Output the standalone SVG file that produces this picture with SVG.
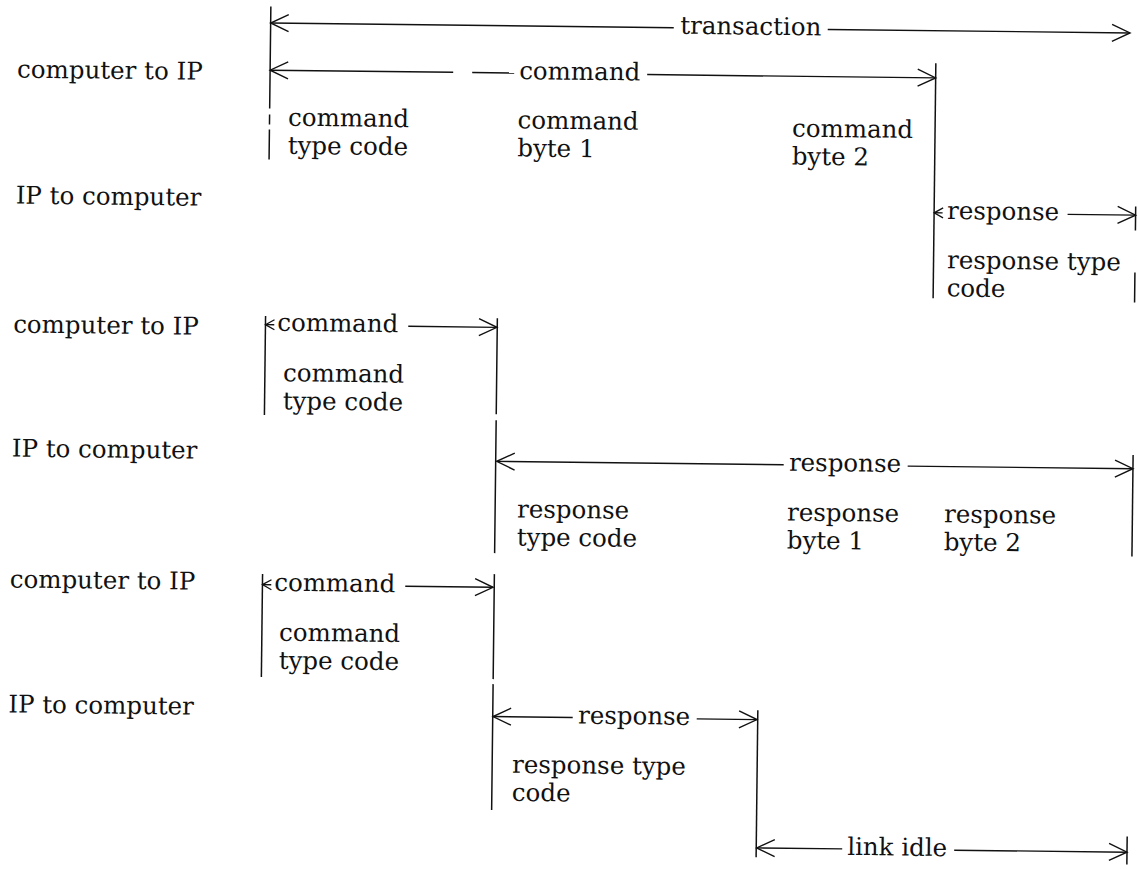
<svg xmlns="http://www.w3.org/2000/svg" width="1138" height="870" viewBox="0 0 1138 870">
  <style>
    text { font-family: "DejaVu Serif", "Liberation Serif", serif; font-size: 24.5px; fill: #111; }
    .ln { stroke: #111; stroke-width: 1.4; fill: none; }
    .tk { stroke: #111; stroke-width: 1.5; fill: none; }
    .big-start { marker-start: url(#ah); }
    .big-end { marker-end: url(#ah); }
    .small-start { marker-start: url(#ah-s); }
  </style>
  <defs>
    <!-- open V arrowheads, tip at the line end -->
    <marker id="ah" viewBox="-20 -10 22 20" refX="0" refY="0" markerWidth="22" markerHeight="20" markerUnits="userSpaceOnUse" orient="auto-start-reverse">
      <path d="M-18,-8.5 L0,0 L-18,8.5" fill="none" stroke="#111" stroke-width="1.4"/>
    </marker>
    <marker id="ah-s" viewBox="-12 -7 14 14" refX="0" refY="0" markerWidth="14" markerHeight="14" markerUnits="userSpaceOnUse" orient="auto-start-reverse">
      <path d="M-9,-5 L0,0 L-9,5" fill="none" stroke="#111" stroke-width="1.3"/>
    </marker>
  </defs>
  <rect width="1138" height="870" fill="#fff"/>

  <!-- the printed page sits slightly skewed -->
  <g transform="rotate(0.665 570 435)">

    <g id="row-labels">
      <text x="13" y="84">computer to IP</text>
      <text x="13" y="210">IP to computer</text>
      <text x="12" y="339">computer to IP</text>
      <text x="12" y="463">IP to computer</text>
      <text x="11.5" y="594">computer to IP</text>
      <text x="11.5" y="719">IP to computer</text>
    </g>

    <g id="connectors">
      <!-- boundary ticks -->
      <path class="tk" d="M265.9,10 V112 M265.9,118 V128 M265.9,133 V163"/>
      <path class="tk" d="M931.5,59 V294"/>
      <path class="tk" d="M1133,200 V224 M1133,266 V296"/>
      <path class="tk" d="M264.2,319.5 V418.5"/>
      <path class="tk" d="M496,319 V415 M496,421 V554"/>
      <path class="tk" d="M1133.3,448.5 V550"/>
      <path class="tk" d="M264.2,577.6 V680.5"/>
      <path class="tk" d="M496,575 V680 M496,685 V811"/>
      <path class="tk" d="M761,708 V855"/>
      <path class="tk" d="M1131.8,830 V858"/>

      <!-- transaction span -->
      <line class="ln big-start" x1="265.9" y1="26.5" x2="669" y2="26.5"/>
      <line class="ln big-end" x1="823" y1="26.5" x2="1125.3" y2="26.5"/>

      <!-- first exchange -->
      <line class="ln big-start" x1="265.9" y1="73.7" x2="449" y2="73.7"/>
      <line class="ln" x1="468" y1="73.7" x2="510" y2="73.7"/>
      <line class="ln big-end" x1="643" y1="73.7" x2="931.5" y2="73.7"/>
      <line class="ln small-start" x1="931.5" y1="208.6" x2="940" y2="208.6"/>
      <line class="ln big-end" x1="1065" y1="208.6" x2="1133" y2="208.6"/>

      <!-- second exchange -->
      <line class="ln small-start" x1="264.2" y1="328.2" x2="273" y2="328.2"/>
      <line class="ln big-end" x1="407" y1="328.2" x2="495.7" y2="328.2"/>
      <line class="ln big-start" x1="497" y1="462.2" x2="784" y2="462.2"/>
      <line class="ln big-end" x1="908" y1="462.2" x2="1133.3" y2="462.2"/>

      <!-- third exchange -->
      <line class="ln small-start" x1="264.2" y1="588.2" x2="273" y2="588.2"/>
      <line class="ln big-end" x1="407" y1="588.2" x2="494.8" y2="588.2"/>
      <line class="ln big-start" x1="496.3" y1="717.4" x2="576" y2="717.4"/>
      <line class="ln big-end" x1="700" y1="717.4" x2="760.3" y2="717.4"/>
      <line class="ln big-start" x1="761.5" y1="845.7" x2="847" y2="845.7"/>
      <line class="ln big-end" x1="959" y1="845.7" x2="1131.8" y2="845.7"/>
    </g>

    <g id="span-labels">
      <text x="746" y="32.5" text-anchor="middle">transaction</text>
      <text x="515" y="79.7">command</text>
      <text x="944.4" y="214.6">response</text>
      <text x="276" y="334.2">command</text>
      <text x="789.3" y="468.2">response</text>
      <text x="276" y="594.2">command</text>
      <text x="581.3" y="723.4">response</text>
      <text x="852" y="851.7">link idle</text>
    </g>

    <g id="exchange-1">
      <text x="284.4" y="129">command</text>
      <text x="284.4" y="157">type code</text>
      <text x="514" y="129">command</text>
      <text x="514" y="157">byte 1</text>
      <text x="788.5" y="134">command</text>
      <text x="788.5" y="162">byte 2</text>
      <text x="945" y="264">response type</text>
      <text x="945" y="292">code</text>
    </g>

    <g id="exchange-2">
      <text x="282.4" y="384.5">command</text>
      <text x="282.4" y="412.5">type code</text>
      <text x="518" y="518">response</text>
      <text x="518" y="546">type code</text>
      <text x="788" y="518">response</text>
      <text x="788" y="546">byte 1</text>
      <text x="945" y="518">response</text>
      <text x="945" y="546">byte 2</text>
    </g>

    <g id="exchange-3">
      <text x="281.4" y="644">command</text>
      <text x="281.4" y="672">type code</text>
      <text x="516" y="773.4">response type</text>
      <text x="516" y="801.4">code</text>
    </g>
  </g>
</svg>
